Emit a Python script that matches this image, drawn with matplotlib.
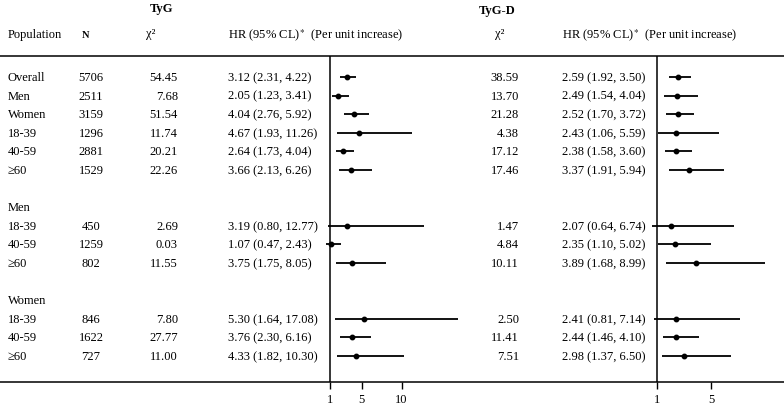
import matplotlib
matplotlib.use("Agg")
import matplotlib.pyplot as plt

# ---- data ----
groups = ["Overall", "Men", "Women", "18-39", "40-59", "≥60",
          "18-39", "40-59", "≥60", "18-39", "40-59", "≥60"]
section_labels = ["Men", "Women"]
n_vals = [5706, 2511, 3159, 1296, 2881, 1529, 450, 1259, 802, 846, 1622, 727]
tyg_chi2 = [54.45, 7.68, 51.54, 11.74, 20.21, 22.26, 2.69, 0.03, 11.55, 7.80, 27.77, 11.00]
tyg_hr = [3.12, 2.05, 4.04, 4.67, 2.64, 3.66, 3.19, 1.07, 3.75, 5.30, 3.76, 4.33]
tyg_lo = [2.31, 1.23, 2.76, 1.93, 1.73, 2.13, 0.80, 0.47, 1.75, 1.64, 2.30, 1.82]
tyg_hi = [4.22, 3.41, 5.92, 11.26, 4.04, 6.26, 12.77, 2.43, 8.05, 17.08, 6.16, 10.30]
tygd_chi2 = [38.59, 13.70, 21.28, 4.38, 17.12, 17.46, 1.47, 4.84, 10.11, 2.50, 11.41, 7.51]
tygd_hr = [2.59, 2.49, 2.52, 2.43, 2.38, 3.37, 2.07, 2.35, 3.89, 2.41, 2.44, 2.98]
tygd_lo = [1.92, 1.54, 1.70, 1.06, 1.58, 1.91, 0.64, 1.10, 1.68, 0.81, 1.46, 1.37]
tygd_hi = [3.50, 4.04, 3.72, 5.59, 3.60, 5.94, 6.74, 5.02, 8.99, 7.14, 4.10, 6.50]
tyg_ticks = [1, 5, 10]
tygd_ticks = [1, 5]

# ---- layout ----
rows = [0, 1, 2, 3, 4, 5, 8, 9, 10, 13, 14, 15]
section_rows = [7, 12]
W, H = 784, 406
y0, dy = 78.0, 18.6          # pixel y of first row, row spacing


def k(py):
    return (py - y0) / dy


plt.rcParams['font.family'] = ['Liberation Serif', 'DejaVu Serif']
plt.rcParams['mathtext.fontset'] = 'stix'
FS = 9

fig = plt.figure(figsize=(W / 100, H / 100), dpi=100)
ax = fig.add_axes([0, 0, 1, 1])
ax.set_xlim(0, W)
ax.set_ylim(k(H), k(0))
ax.axis('off')

# headers
ax.text(162, k(9), "TyG", ha='center', va='center', fontsize=FS, fontweight='bold')
ax.text(497, k(11), "TyG-D", ha='center', va='center', fontsize=FS, fontweight='bold')
hy = k(35)
ax.text(8, hy, "Population", ha='left', va='center', fontsize=FS)
ax.text(86, hy, "N", ha='center', va='center', fontsize=FS - 1.5, fontweight='bold')
ax.text(151, k(34), "χ²", ha='center', va='center', fontsize=FS)
ax.text(500, k(34), "χ²", ha='center', va='center', fontsize=FS)
hdr = r"HR (95% CL)$^{\ast}$  (Per unit increase)"
ax.text(228, hy, hdr, ha='left', va='center', fontsize=FS)
ax.text(562, hy, hdr, ha='left', va='center', fontsize=FS)

# horizontal rules
ax.axhline(k(57), color='black', lw=1.1)
ax.axhline(k(383), color='black', lw=1.1)

for r, lab in zip(section_rows, section_labels):
    ax.text(8, r, lab, ha='left', va='center', fontsize=FS)

for i, r in enumerate(rows):
    ax.text(8, r, groups[i], ha='left', va='center', fontsize=FS)
    ax.text(91, r, f"{n_vals[i]}", ha='center', va='center', fontsize=FS)
    ax.text(178, r, f"{tyg_chi2[i]:.2f}", ha='right', va='center', fontsize=FS)
    ax.text(228, r, f"{tyg_hr[i]:.2f} ({tyg_lo[i]:.2f}, {tyg_hi[i]:.2f})",
            ha='left', va='center', fontsize=FS)
    ax.text(519, r, f"{tygd_chi2[i]:.2f}", ha='right', va='center', fontsize=FS)
    ax.text(562, r, f"{tygd_hr[i]:.2f} ({tygd_lo[i]:.2f}, {tygd_hi[i]:.2f})",
            ha='left', va='center', fontsize=FS)


def forest(px0, px1, x_at1, ppu, hr, lo, hi, ticks):
    fax = fig.add_axes([px0 / W, (H - 383) / H, (px1 - px0) / W, (383 - 57) / H])
    fax.patch.set_alpha(0)
    fax.set_xlim(1 - (x_at1 - px0) / ppu, 1 + (px1 - x_at1) / ppu)
    fax.set_ylim(k(383), k(57))
    for s in fax.spines.values():
        s.set_visible(False)
    fax.axvline(1, color='black', lw=1.1)
    fax.hlines(rows, lo, hi, color='black', lw=1.3)
    fax.plot(hr, rows, 'o', color='black', ms=3.2)
    fax.set_yticks([])
    fax.set_xticks(ticks)
    fax.set_xticklabels([str(t) for t in ticks], fontsize=FS)
    fax.tick_params(axis='x', length=5, width=1, direction='out', pad=3)
    return fax


forest(318, 480, 330, 7.95, tyg_hr, tyg_lo, tyg_hi, tyg_ticks)
forest(645, 784, 657, 13.5, tygd_hr, tygd_lo, tygd_hi, tygd_ticks)

fig.savefig("out.png", dpi=100)
